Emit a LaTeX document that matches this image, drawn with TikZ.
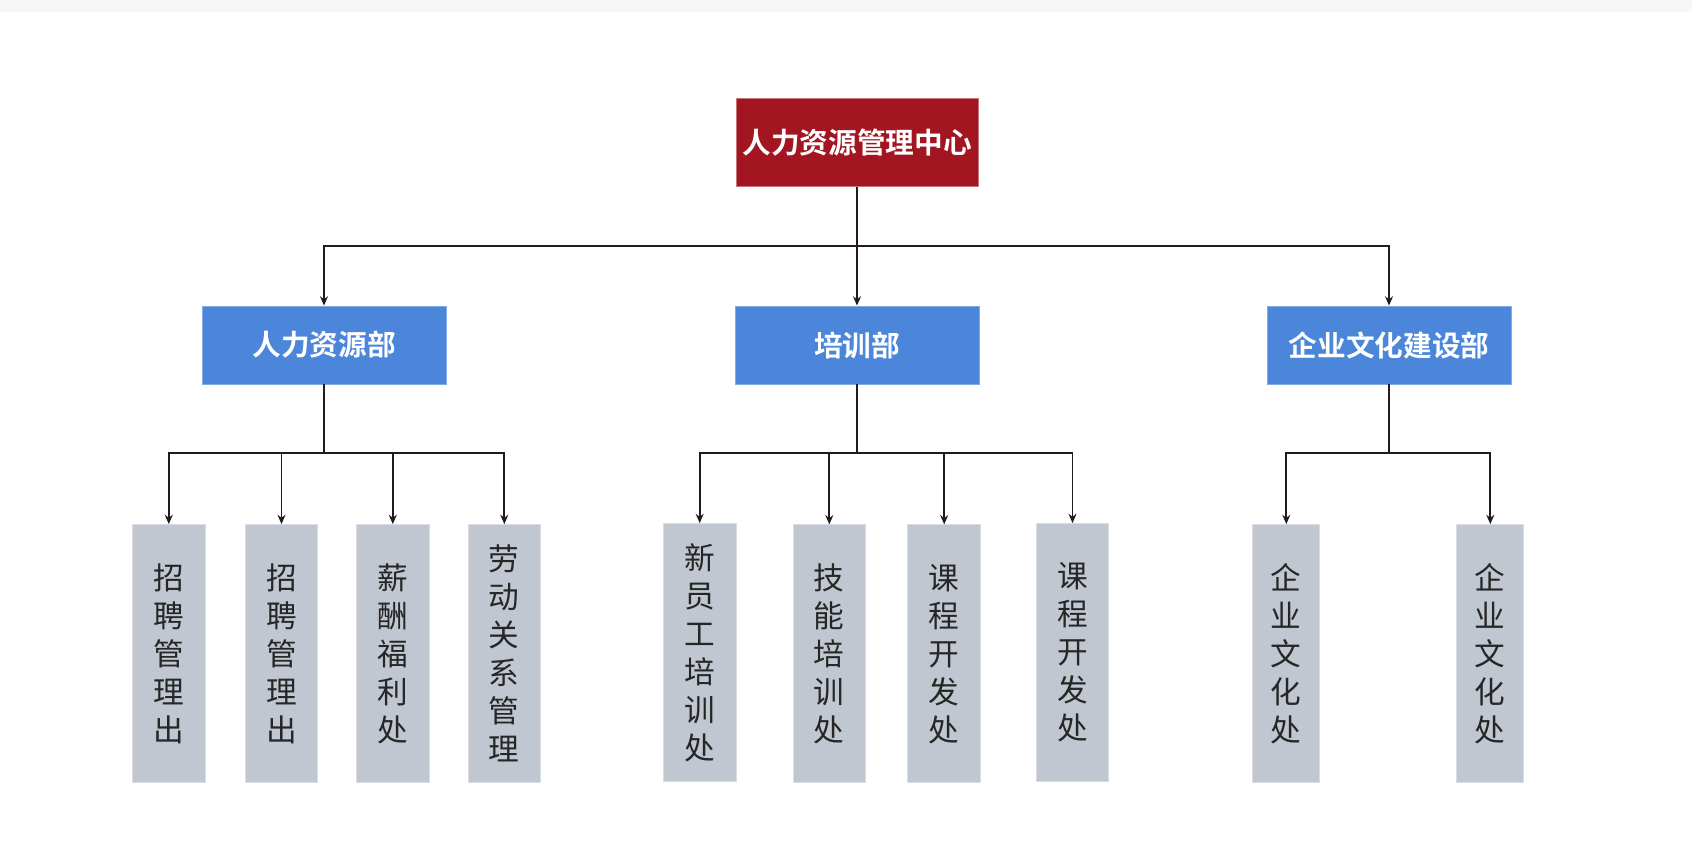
\documentclass[tikz,border=0pt]{standalone}
\usepackage{fontspec}
\newfontfamily\cjk{Noto Sans CJK SC}
\newfontfamily\cjkbold{Noto Sans CJK SC Bold}
\usetikzlibrary{arrows.meta}
\definecolor{rootred}{HTML}{A31621}
\definecolor{deptblue}{HTML}{4C86DA}
\definecolor{leafgray}{HTML}{C1C7D1}
\definecolor{linecol}{HTML}{231A1C}
\definecolor{topband}{HTML}{F6F7F9}
\tikzset{
  rootbox/.style={fill=rootred, draw=rootred!60!white, line width=0.6pt, minimum width=181.5pt, minimum height=65.6pt, inner sep=0pt, text=white, font=\cjkbold\fontsize{21.5}{24}\selectfont},
  deptbox/.style={fill=deptblue, draw=deptblue!70!white, line width=0.6pt, minimum width=183pt, minimum height=58.5pt, inner sep=0pt, text=white, font=\cjkbold\fontsize{21.5}{24}\selectfont},
  leafbox/.style={fill=leafgray, draw=leafgray!60!white, line width=0.6pt, minimum width=54.5pt, minimum height=193.5pt, inner sep=0pt, text=black!85, align=center, font=\cjk\fontsize{23}{28.5}\selectfont},
  leafnarrow/.style={leafbox, minimum width=50.25pt},
  conn/.style={draw=linecol, line width=1.4pt},
  arr/.style={conn, -{Stealth[length=7pt,width=6pt]}}
}
\begin{document}
\begin{tikzpicture}[x=0.75pt,y=-0.75pt]
\useasboundingbox (0,0) rectangle (1692,863);
\fill[topband] (0,0) rectangle (1692,12);
% root
\node[rootbox] (root) at (857,142.5) {人力资源管理中心};
% departments
\node[deptbox] (hr) at (324,345) {人力资源部};
\node[deptbox] (tr) at (857,345) {培训部};
\node[deptbox] (cu) at (1389,345) {企业文化建设部};
% leaves
\node[leafbox] (l1) at (168.8,653.5) {招\\聘\\管\\理\\出};
\node[leafbox] (l2) at (281.5,653.5) {招\\聘\\管\\理\\出};
\node[leafbox] (l3) at (392.8,653.5) {薪\\酬\\福\\利\\处};
\node[leafbox] (l4) at (504.3,653.5) {劳\\动\\关\\系\\管\\理};
\node[leafbox] (l5) at (699.7,652.5) {新\\员\\工\\培\\训\\处};
\node[leafbox] (l6) at (829.3,653.8) {技\\能\\培\\训\\处};
\node[leafbox] (l7) at (944.2,653.8) {课\\程\\开\\发\\处};
\node[leafbox] (l8) at (1072.5,652.5) {课\\程\\开\\发\\处};
\node[leafnarrow] (l9) at (1286.3,653.5) {企\\业\\文\\化\\处};
\node[leafnarrow] (l10) at (1490.3,653.5) {企\\业\\文\\化\\处};
% buses
\coordinate (b0) at (857,246);
\coordinate (b1) at (324,453);
\coordinate (b2) at (857,453);
\coordinate (b3) at (1389,453);
\draw[conn] (root.south) -- (b0);
\draw[arr] (b0) -| (hr.north);
\draw[arr] (b0) -| (cu.north);
\draw[arr] (b0) -- (tr.north);
\draw[conn] (hr.south) -- (b1);
\draw[arr] (b1) -| (l1.north);
\draw[arr] (b1) -| (l2.north);
\draw[arr] (b1) -| (l3.north);
\draw[arr] (b1) -| (l4.north);
\draw[conn] (tr.south) -- (b2);
\draw[arr] (b2) -| (l5.north);
\draw[arr] (b2) -| (l6.north);
\draw[arr] (b2) -| (l7.north);
\draw[arr] (b2) -| (l8.north);
\draw[conn] (cu.south) -- (b3);
\draw[arr] (b3) -| (l9.north);
\draw[arr] (b3) -| (l10.north);
\end{tikzpicture}
\end{document}
